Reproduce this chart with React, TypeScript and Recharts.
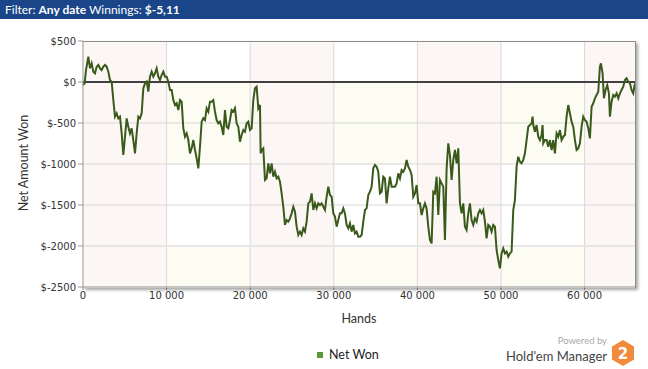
import {
  LineChart,
  Line,
  XAxis,
  YAxis,
  ReferenceArea,
  ReferenceLine,
} from 'recharts'

// cumulative net won (hands played -> $)
const hands = [
  0, 199, 359, 638, 837, 1036, 1236, 1435, 1635, 1834, 2033, 2233, 2432, 2631, 2831, 3030, 3229, 3429, 3628, 3827,
  4027, 4226, 4425, 4625, 4824, 5023, 5223, 5422, 5622, 5821, 6020, 6220, 6419, 6618, 6818, 7017, 7216, 7416, 7615, 7814,
  8014, 8213, 8412, 8612, 8811, 9010, 9210, 9409, 9609, 9808, 10007, 10207, 10406, 10605, 10805, 11004, 11203, 11403, 11602, 11801,
  12001, 12200, 12399, 12599, 12798, 12997, 13197, 13396, 13596, 13795, 13994, 14194, 14393, 14592, 14792, 14991, 15190,
  15388, 15588, 15787, 15986, 16186, 16385, 16584, 16784, 16983, 17183, 17382, 17581, 17781, 17980, 18179, 18379, 18578, 18777, 18977, 19176,
  19375, 19575, 19774, 19973, 20173, 20372, 20571, 20771, 20970, 21170, 21249, 21369, 21568, 21768, 21967, 22166, 22366, 22565, 22764, 22964,
  23163, 23362, 23562, 23761, 23960, 24160, 24359, 24558, 24758, 24957, 25157, 25356, 25555, 25755, 25954, 26153, 26353, 26552, 26751, 26951,
  27150, 27349, 27549, 27748, 27947, 28147, 28346, 28545, 28745, 28944, 29144, 29343, 29542, 29742, 29941, 30140, 30340, 30539, 30738,
  30936, 31136, 31335, 31534, 31734, 31933, 32132, 32332, 32531, 32731, 32930, 33129, 33329, 33528, 33727, 33927, 34126, 34325, 34525, 34724,
  34923, 35123, 35322, 35521, 35721, 35920, 36119, 36319, 36518, 36718, 36917, 37116, 37316, 37515, 37714, 37914, 38113, 38312, 38512, 38711,
  38910, 39110, 39309, 39508, 39708, 39907, 40106, 40306, 40505, 40705, 40904, 41103, 41303, 41502, 41701, 41901, 42100, 42299, 42499, 42698,
  42897, 43097, 43296, 43495, 43695, 43894, 44093, 44293, 44492, 44692, 44891, 45090, 45290, 45489, 45688, 45888, 46087, 46286, 46486, 46685,
  46884, 47084, 47283, 47482,
  47680, 47880, 48079, 48278, 48478, 48677, 48876, 49076, 49275, 49475, 49674, 49873, 50073, 50272, 50471, 50671, 50870, 51069, 51269, 51468,
  51667, 51867, 52066, 52265, 52465, 52664, 52863, 53063, 53262, 53462, 53661, 53781, 53860, 54060, 54259, 54458, 54658, 54857, 54977, 55056,
  55256, 55455, 55654, 55854, 56053, 56252, 56452, 56651, 56850, 57050, 57249, 57449, 57648, 57847, 58047, 58246, 58445, 58645, 58844, 59043,
  59243, 59442, 59641, 59841, 60040, 60239, 60439, 60638, 60837, 61037, 61236, 61436, 61635, 61834, 61954, 62153, 62313, 62512, 62711, 62911,
  63030, 63229, 63429, 63628, 63827, 64027, 64226, 64425, 64625, 64824, 65023, 65223, 65422, 65621, 65821, 66020,
]

const netWon = [
  -37, -16, 146, 309, 167, 228, 126, 106, 187, 207, 167, 146, 187, 207, 187, 126, 24, 4, -220, -423,
  -382, -443, -423, -626, -890, -667, -443, -545, -626, -565, -708, -870, -626, -423, -443, -382, -77, -16, 4, -118,
  65, 126, 65, 106, 167, 65, 24, 85, 126, 65, 65, 4, -98, -98, -220, -281, -260, -342, -220, -240,
  -565, -667, -626, -708, -870, -809, -708, -829, -931, -1053, -789, -484, -443, -464, -321, -362, -240,
  -240, -220, -362, -464, -504, -484, -545, -647, -342, -545, -565, -464, -342, -362, -321, -504, -545, -728, -647, -586,
  -606, -504, -484, -586, -565, -220, -77, -57, -321, -281, -870, -829, -809, -1195, -1175, -992, -1114, -992, -1155, -1094,
  -1175, -1155, -1216, -1358, -1521, -1744, -1683, -1703, -1663, -1602, -1521, -1581, -1764, -1866, -1825, -1866, -1785, -1825, -1703, -1480,
  -1460, -1358, -1561, -1480, -1541, -1480, -1500, -1480, -1521, -1561, -1399, -1277, -1378, -1399, -1602, -1642, -1764, -1683, -1602,
  -1602, -1541, -1602, -1744, -1785, -1724, -1825, -1744, -1846, -1825, -1886, -1886, -1866, -1703, -1561, -1541, -1378, -1338, -1277, -1053,
  -1012, -1033, -1094, -1358, -1338, -1155, -1175, -1480, -1297, -1155, -1277, -1277, -1277, -1236, -1114, -1175, -1073, -1094, -1053, -951,
  -1033, -1073, -1134, -1399, -1358, -1256, -1480, -1480, -1622, -1541, -1480, -1541, -1764, -1927, -1968, -1338, -1358, -1155, -1622, -1195,
  -1236, -1277, -1927, -1053, -748, -890, -1195, -951, -829, -992, -809, -1480, -1602, -1480, -1764, -1805, -1602, -1480, -1683, -1744,
  -1663, -1703, -1602, -1561,
  -1602, -1561, -1703, -1907, -1744, -1764, -1825, -1744, -1764, -2049, -2171, -2273, -2090, -2029, -2090, -2069, -2130, -2090, -2069, -1561,
  -1439, -1033, -911, -972, -992, -951, -870, -708, -545, -525, -504, -423, -525, -606, -525, -667, -708, -647, -525, -748,
  -708, -708, -789, -708, -829, -708, -870, -626, -667, -586, -708, -667, -647, -423, -281, -382, -484, -545, -708, -829,
  -809, -748, -545, -423, -464, -484, -565, -687, -301, -260, -199, -159, -118, 187, 227, 106, -199, -98, -37, -138,
  -423, -240, -159, -179, -138, -199, -138, -98, -57, 24, 45, 4, -16, -98, -138, -16,
]

const xTicks = [0, 10000, 20000, 30000, 40000, 50000, 60000]
const yTicks = [-2500, -2000, -1500, -1000, -500, 0, 500]
const xMax = 66030

// alternating column shading like the HEM graph
const pinkColumns = [[0, 10000], [20000, 30000], [40000, 50000], [60000, xMax]]
const plainColumns = [[10000, 20000], [30000, 40000], [50000, 60000]]
const creamRows = [[-1000, 0], [-2500, -2000]]

const data = hands.map((h, i) => ({ hands: h, net: netWon[i] }))

const LINE = '#3a5a1c'
const PINK = '#fcf7f5'
const CREAM = '#fcfcf2'
const GRID = '#d8d8d8'
const UI_FONT = 'Lato, "Noto Sans", sans-serif'
const AXIS_FONT = '"DejaVu Sans", Verdana, sans-serif'

const fmtHands = (v: number) => String(v).replace(/\B(?=(\d{3})+(?!\d))/g, ' ')

export default function App() {
  return (
    <div style={{ position: 'relative', width: 648, height: 369, background: '#fff', overflow: 'hidden' }}>
      <style>{`body { margin: 0; }`}</style>

      <div
        style={{
          position: 'absolute',
          left: 0,
          top: 0,
          width: 648,
          height: 19,
          background: '#1a4689',
          color: '#fff',
          fontFamily: UI_FONT,
          fontSize: 12,
          lineHeight: '19px',
          paddingLeft: 5,
          boxSizing: 'border-box',
          whiteSpace: 'nowrap',
        }}
      >
        Filter: <b>Any date</b> Winnings: <b>$-5,11</b>
      </div>

      <LineChart
        width={648}
        height={369}
        data={data}
        margin={{ top: 41, right: 13, bottom: 52, left: 23 }}
      >
        {pinkColumns.map(([a, b]) => (
          <ReferenceArea key={'p' + a} x1={a} x2={b} y1={-2500} y2={500} fill={PINK} fillOpacity={1} stroke="none" />
        ))}
        {plainColumns.map(([a, b]) =>
          creamRows.map(([lo, hi]) => (
            <ReferenceArea key={'c' + a + lo} x1={a} x2={b} y1={lo} y2={hi} fill={CREAM} fillOpacity={1} stroke="none" />
          ))
        )}

        {/* grid drawn as reference lines so it sits over the shading */}
        {xTicks.slice(1).map(v => (
          <ReferenceLine key={'gx' + v} x={v} stroke={GRID} strokeWidth={1} />
        ))}
        {yTicks.slice(1, -1).map(v => (
          <ReferenceLine key={'gy' + v} y={v} stroke={v === -2000 ? '#e6e6e6' : GRID} strokeWidth={v === -2000 ? 2 : 1} />
        ))}

        <XAxis
          dataKey="hands"
          type="number"
          domain={[0, xMax]}
          ticks={xTicks}
          tickFormatter={fmtHands}
          height={30}
          tick={{ fontSize: 10, fill: '#333', fontFamily: AXIS_FONT }}
          tickSize={3}
          tickLine={{ stroke: '#999' }}
          axisLine={{ stroke: '#8c8c8c' }}
        />
        <YAxis
          type="number"
          domain={[-2500, 500]}
          ticks={yTicks}
          tickFormatter={(v: number) => '$' + v}
          width={60}
          tick={{ fontSize: 10, fill: '#333', fontFamily: AXIS_FONT }}
          tickSize={5}
          tickLine={{ stroke: '#999' }}
          axisLine={{ stroke: '#9a9a9a' }}
        />

        <ReferenceLine y={0} stroke="#404040" strokeWidth={2} />

        <Line
          type="linear"
          dataKey="net"
          name="Net Won"
          stroke={LINE}
          strokeWidth={2}
          dot={false}
          activeDot={false}
          isAnimationActive={false}
        />
      </LineChart>

      {/* frame + drop shadow round the plot */}
      <div
        style={{
          position: 'absolute',
          left: 83,
          top: 41,
          width: 553,
          height: 247,
          boxSizing: 'border-box',
          borderTop: '1px solid #8c8c8c',
          borderRight: '1px solid #8c8c8c',
          boxShadow: '2px 2px 3px rgba(0,0,0,0.35)',
          pointerEvents: 'none',
        }}
      />

      <div
        style={{
          position: 'absolute',
          left: 23,
          top: 163,
          transform: 'translate(-50%, -50%) rotate(-90deg)',
          fontFamily: UI_FONT,
          fontSize: 12.5,
          color: '#333',
          whiteSpace: 'nowrap',
        }}
      >
        Net Amount Won
      </div>
      <div
        style={{
          position: 'absolute',
          left: 359,
          top: 318,
          transform: 'translate(-50%, -50%)',
          fontFamily: UI_FONT,
          fontSize: 12.5,
          color: '#333',
        }}
      >
        Hands
      </div>

      {/* legend */}
      <div
        style={{
          position: 'absolute',
          left: 317,
          top: 348,
          display: 'flex',
          alignItems: 'center',
          fontFamily: UI_FONT,
          fontSize: 12.5,
          lineHeight: '14px',
          color: '#222',
        }}
      >
        <span style={{ width: 6, height: 6, background: '#5a9a3a', marginRight: 6, display: 'inline-block' }} />
        Net Won
      </div>

      <div style={{ position: 'absolute', right: 41, top: 336, fontFamily: UI_FONT, fontSize: 9.5, lineHeight: '10px', color: '#aaa' }}>
        Powered by
      </div>
      <div style={{ position: 'absolute', right: 41, top: 350, fontFamily: UI_FONT, fontSize: 13, lineHeight: '13px', color: '#444' }}>
        Hold'em Manager
      </div>
      <svg width={26} height={28} style={{ position: 'absolute', left: 610, top: 339 }}>
        <polygon points="13,1 24,7.5 24,20.5 13,27 2,20.5 2,7.5" fill="#f28a3b" />
        <text x={13} y={20} textAnchor="middle" fill="#fff" fontFamily="DejaVu Sans" fontWeight="bold" fontSize={15}>
          2
        </text>
      </svg>
    </div>
  )
}
